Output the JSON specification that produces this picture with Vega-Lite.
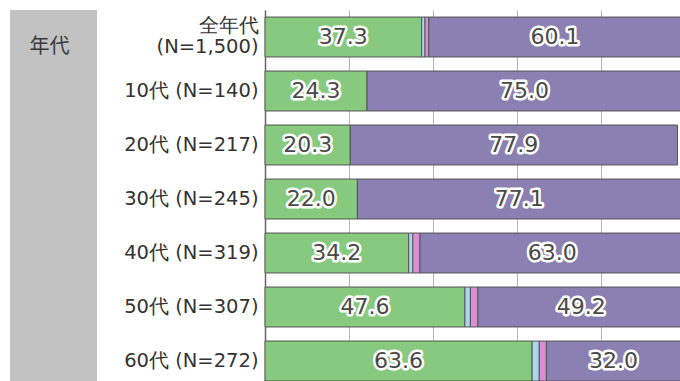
{
  "$schema": "https://vega.github.io/schema/vega-lite/v6.json",
  "padding": {"left": 10, "top": 10, "right": 0, "bottom": 0},
  "background": "white",
  "config": {
    "view": {"stroke": null},
    "font": "Noto Sans CJK JP"
  },
  "datasets": {
    "answers": [
      {"age": "全年代|(N=1,500)", "seg": "選択肢1", "value": 37.3},
      {"age": "全年代|(N=1,500)", "seg": "選択肢2", "value": 0.8},
      {"age": "全年代|(N=1,500)", "seg": "選択肢3", "value": 0.9},
      {"age": "全年代|(N=1,500)", "seg": "選択肢4", "value": 60.1},
      {"age": "10代 (N=140)", "seg": "選択肢1", "value": 24.3},
      {"age": "10代 (N=140)", "seg": "選択肢4", "value": 75.0},
      {"age": "20代 (N=217)", "seg": "選択肢1", "value": 20.3},
      {"age": "20代 (N=217)", "seg": "選択肢4", "value": 77.9},
      {"age": "30代 (N=245)", "seg": "選択肢1", "value": 22.0},
      {"age": "30代 (N=245)", "seg": "選択肢4", "value": 77.1},
      {"age": "40代 (N=319)", "seg": "選択肢1", "value": 34.2},
      {"age": "40代 (N=319)", "seg": "選択肢2", "value": 1.0},
      {"age": "40代 (N=319)", "seg": "選択肢3", "value": 1.7},
      {"age": "40代 (N=319)", "seg": "選択肢4", "value": 63.0},
      {"age": "50代 (N=307)", "seg": "選択肢1", "value": 47.6},
      {"age": "50代 (N=307)", "seg": "選択肢2", "value": 1.3},
      {"age": "50代 (N=307)", "seg": "選択肢3", "value": 1.8},
      {"age": "50代 (N=307)", "seg": "選択肢4", "value": 49.2},
      {"age": "60代 (N=272)", "seg": "選択肢1", "value": 63.6},
      {"age": "60代 (N=272)", "seg": "選択肢2", "value": 1.7},
      {"age": "60代 (N=272)", "seg": "選択肢3", "value": 1.7},
      {"age": "60代 (N=272)", "seg": "選択肢4", "value": 32.0}
    ],
    "header": [
      {"age": "全年代|(N=1,500)", "head": "年代"}
    ]
  },
  "spacing": 8,
  "hconcat": [
    {
      "width": 87,
      "height": 378,
      "data": {"name": "header"},
      "layer": [
        {
          "mark": {"type": "rect", "color": "#c2c2c2"},
          "encoding": {}
        },
        {
          "mark": {"type": "text", "fontSize": 20, "color": "#3a3a3a", "align": "center", "baseline": "top", "dx": -4},
          "encoding": {
            "y": {
              "field": "age",
              "type": "nominal",
              "axis": null,
              "scale": {
                "domain": ["全年代|(N=1,500)", "10代 (N=140)", "20代 (N=217)", "30代 (N=245)", "40代 (N=319)", "50代 (N=307)", "60代 (N=272)"],
                "paddingInner": 0.26,
                "paddingOuter": 0.13
              }
            },
            "text": {"field": "head"}
          }
        }
      ]
    },
    {
      "width": 420,
      "height": 378,
      "data": {"name": "answers"},
      "transform": [
        {"stack": "value", "groupby": ["age"], "sort": [{"field": "seg", "order": "ascending"}], "as": ["x0", "x1"]},
        {"calculate": "(datum.x0 + datum.x1) / 2", "as": "mid"}
      ],
      "encoding": {
        "y": {
          "field": "age",
          "type": "nominal",
          "title": null,
          "sort": null,
          "scale": {
            "domain": ["全年代|(N=1,500)", "10代 (N=140)", "20代 (N=217)", "30代 (N=245)", "40代 (N=319)", "50代 (N=307)", "60代 (N=272)"],
            "paddingInner": 0.26,
            "paddingOuter": 0.13
          },
          "axis": {
            "labelExpr": "split(datum.label, '|')",
            "labelFont": "DejaVu Sans",
            "labelFontSize": 19.5,
            "labelColor": "#333333",
            "labelLineHeight": 21,
            "labelBaseline": "middle",
            "labelOffset": {"condition": {"test": "indexof(datum.value, '|') >= 0", "value": -11}, "value": 0},
            "labelPadding": 7,
            "ticks": false,
            "domainColor": "#666666",
            "domainWidth": 1.5,
            "minExtent": 160,
            "maxExtent": 160,
            "labelLimit": 200
          }
        }
      },
      "layer": [
        {
          "mark": {"type": "bar", "stroke": "#555555", "strokeWidth": 1},
          "encoding": {
            "x": {
              "field": "x0",
              "type": "quantitative",
              "scale": {"domain": [0, 100], "nice": false},
              "axis": {
                "values": [0, 20, 40, 60, 80, 100],
                "labels": false,
                "ticks": false,
                "domain": false,
                "title": null,
                "grid": true,
                "gridColor": "#b5b5b5",
                "gridWidth": 1
              }
            },
            "x2": {"field": "x1"},
            "color": {
              "field": "seg",
              "type": "nominal",
              "legend": null,
              "scale": {
                "domain": ["選択肢1", "選択肢2", "選択肢3", "選択肢4"],
                "range": ["#87c97e", "#a9d6f0", "#d98fd2", "#8a80b1"]
              }
            }
          }
        },
        {
          "transform": [{"filter": "datum.seg === '選択肢1' || datum.seg === '選択肢4'"}],
          "mark": {"type": "text", "fontSize": 22, "font": "DejaVu Sans", "stroke": "white", "strokeWidth": 5, "strokeJoin": "round", "color": "white", "align": "center", "baseline": "middle"},
          "encoding": {
            "x": {"field": "mid", "type": "quantitative"},
            "text": {"field": "value", "type": "quantitative", "format": ".1f"}
          }
        },
        {
          "transform": [{"filter": "datum.seg === '選択肢1' || datum.seg === '選択肢4'"}],
          "mark": {"type": "text", "fontSize": 22, "font": "DejaVu Sans", "color": "#4a4a4a", "align": "center", "baseline": "middle"},
          "encoding": {
            "x": {"field": "mid", "type": "quantitative"},
            "text": {"field": "value", "type": "quantitative", "format": ".1f"}
          }
        }
      ]
    }
  ]
}
